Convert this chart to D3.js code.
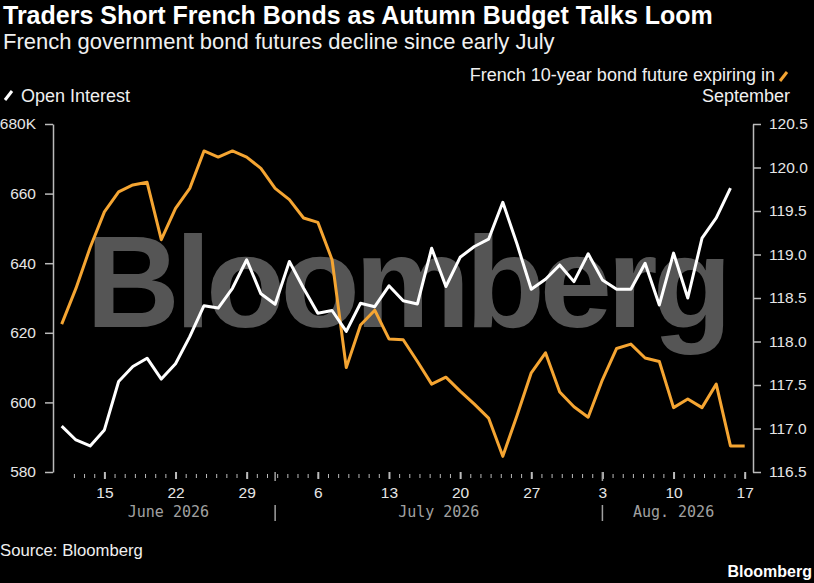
<!DOCTYPE html>
<html lang="en">
<meta charset="utf-8"/>
<head>
<style>
  body { margin: 0; background-color: #000000; }
  svg { display: block; background-color: #000000; font-family: "Liberation Sans", Arial, sans-serif; }
  #title { font-size: 25px; font-weight: bold; fill: #FFFFFF; }
  #subtitle { font-size: 22px; fill: #F0F0F0; }
  .legend { font-size: 18px; fill: #F0F0F0; }
  .axis text { font-size: 15.5px; fill: #E6E6E6; font-family: "Liberation Sans", Arial, sans-serif; }
  .axis path, .axis line { stroke: #BBBBBB; stroke-width: 1.5; }
  .month { font-family: "DejaVu Sans Mono", monospace; font-size: 15px; fill: #A0A0A0; }
  .sep { stroke: #A0A0A0; stroke-width: 1.5; }
  #source { font-size: 16.7px; fill: #F0F0F0; }
  #logo { font-size: 16px; font-weight: bold; fill: #FFFFFF; }
  #watermark { font-size: 130px; font-weight: bold; fill: #555555; letter-spacing: -5px; }
</style>
</head>
<body>
<svg id="chart" width="814" height="583"></svg>

<script src="https://cdn.jsdelivr.net/npm/d3@7/dist/d3.min.js"></script>
<script>
// trading days shown on the chart
let dates = [
  "2026-06-10","2026-06-11","2026-06-12",
  "2026-06-15","2026-06-16","2026-06-17","2026-06-18","2026-06-19",
  "2026-06-22","2026-06-23","2026-06-24","2026-06-25","2026-06-26",
  "2026-06-29","2026-06-30","2026-07-01","2026-07-02","2026-07-03",
  "2026-07-06","2026-07-07","2026-07-08","2026-07-09","2026-07-10",
  "2026-07-13","2026-07-14","2026-07-15","2026-07-16","2026-07-17",
  "2026-07-20","2026-07-21","2026-07-22","2026-07-23","2026-07-24",
  "2026-07-27","2026-07-28","2026-07-29","2026-07-30","2026-07-31",
  "2026-08-03","2026-08-04","2026-08-05","2026-08-06","2026-08-07",
  "2026-08-10","2026-08-11","2026-08-12","2026-08-13","2026-08-14",
  "2026-08-17"
]

// open interest, thousands of contracts (last day not yet published)
let openInterest = [
  593.2, 589.2, 587.5, 592.1, 606.0, 610.3, 612.7, 606.7, 611.1, 618.9,
  627.8, 627.1, 632.8, 641.0, 631.2, 628.2, 640.5, 632.8, 625.6, 626.4,
  620.4, 628.5, 627.5, 633.5, 629.2, 628.3, 644.3, 633.3, 641.7, 644.8,
  646.9, 657.5, 645.5, 632.5, 635.4, 639.5, 634.7, 642.7, 635.2, 632.5,
  632.5, 640.0, 628.0, 642.9, 630.0, 647.2, 653.0, 661.6
]

// French 10-year bond future, September contract
let bondFuture = [
  118.20, 118.61, 119.08, 119.49, 119.72, 119.80, 119.83, 119.17, 119.53, 119.76,
  120.19, 120.12, 120.19, 120.12, 119.99, 119.76, 119.63, 119.42, 119.37, 118.94,
  117.70, 118.19, 118.36, 118.03, 118.02, 117.77, 117.51, 117.59, 117.43, 117.28,
  117.12, 116.68, 117.15, 117.64, 117.87, 117.42, 117.25, 117.13, 117.56, 117.92,
  117.97, 117.81, 117.77, 117.24, 117.34, 117.24, 117.51, 116.80, 116.80
]

let leftTicks = [580, 600, 620, 640, 660, 680]
let rightTicks = [116.5, 117.0, 117.5, 118.0, 118.5, 119.0, 119.5, 120.0, 120.5]
let weekLabels = ["2026-06-15","2026-06-22","2026-06-29","2026-07-06","2026-07-13",
                  "2026-07-20","2026-07-27","2026-08-03","2026-08-10","2026-08-17"]
let firstDayTick = "2026-06-12"
let monthStarts = ["2026-07-01", "2026-08-03"]
let monthNames = ["June 2026", "July 2026", "Aug. 2026"]

let svg = d3.select("#chart")
let plotTop = 124, plotBottom = 472, plotLeft = 53, plotRight = 753
let parse = d3.timeParse("%Y-%m-%d")

let xPoint = d3.scalePoint().domain(dates).range([61.7, 744.7])
let xTime = d3.scaleTime()
  .domain([parse(weekLabels[0]), parse(weekLabels[weekLabels.length - 1])])
  .range([xPoint(weekLabels[0]), xPoint(weekLabels[weekLabels.length - 1])])
let yLeft = d3.scaleLinear().domain([580, 680]).range([plotBottom, plotTop])
let yRight = d3.scaleLinear().domain([116.5, 120.5]).range([plotBottom, plotTop])

// titles
svg.append("text").attr("id", "title").attr("x", 3).attr("y", 24)
  .text("Traders Short French Bonds as Autumn Budget Talks Loom")
svg.append("text").attr("id", "subtitle").attr("x", 3).attr("y", 49)
  .text("French government bond futures decline since early July")

// legend
svg.append("line").attr("x1", 5).attr("y1", 100).attr("x2", 12).attr("y2", 91)
  .attr("stroke", "#FFFFFF").attr("stroke-width", 3)
svg.append("text").attr("class", "legend").attr("x", 21).attr("y", 102).text("Open Interest")
svg.append("text").attr("class", "legend").attr("x", 775).attr("y", 81)
  .attr("text-anchor", "end").text("French 10-year bond future expiring in")
svg.append("line").attr("x1", 780).attr("y1", 81).attr("x2", 787).attr("y2", 72)
  .attr("stroke", "#F5A532").attr("stroke-width", 3)
svg.append("text").attr("class", "legend").attr("x", 790).attr("y", 102)
  .attr("text-anchor", "end").text("September")

// watermark
svg.append("text").attr("id", "watermark").attr("x", 86).attr("y", 327)
  .text("Bloomberg")

// y axes
svg.append("g").attr("class", "axis")
  .attr("transform", "translate(" + plotLeft + ",0)")
  .call(d3.axisLeft(yLeft).tickValues(leftTicks).tickSize(8).tickSizeOuter(0).tickPadding(9)
    .tickFormat(d => d === 680 ? "680K" : d))
svg.append("g").attr("class", "axis")
  .attr("transform", "translate(" + plotRight + ",0)")
  .call(d3.axisRight(yRight).tickValues(rightTicks).tickSize(8).tickSizeOuter(0).tickPadding(8)
    .tickFormat(d3.format(".1f")))

// x axis: daily minor ticks, weekly labels
let days = d3.timeDay.range(parse(firstDayTick), d3.timeDay.offset(parse(weekLabels[weekLabels.length - 1]), 1))
let minor = svg.append("g").attr("class", "axis")
  .attr("transform", "translate(0," + (plotBottom + 2) + ")")
  .call(d3.axisBottom(xTime).tickValues(days).tickSize(4).tickFormat(""))
minor.select(".domain").remove()
minor.selectAll("line").style("stroke-width", 1)

let major = svg.append("g").attr("class", "axis")
  .attr("transform", "translate(0," + plotBottom + ")")
  .call(d3.axisBottom(xTime).tickValues(weekLabels.map(parse)).tickSize(7).tickPadding(8)
    .tickFormat(d3.timeFormat("%-d")))
major.select(".domain").remove()
major.selectAll("line").style("stroke-width", 2)

// month separators and names
svg.selectAll(".sepTick").data(monthStarts).enter().append("line")
  .attr("class", "sep")
  .attr("x1", d => xPoint(d)).attr("x2", d => xPoint(d))
  .attr("y1", plotBottom).attr("y2", plotBottom + 9)
svg.selectAll(".sepBar").data(monthStarts).enter().append("line")
  .attr("class", "sep")
  .attr("x1", d => xPoint(d)).attr("x2", d => xPoint(d))
  .attr("y1", plotBottom + 33).attr("y2", plotBottom + 49)

let edges = [xPoint.range()[0]].concat(monthStarts.map(d => xPoint(d)), [xPoint.range()[1]])
svg.selectAll(".month").data(monthNames).enter().append("text")
  .attr("class", "month")
  .attr("x", (d, i) => (edges[i] + edges[i + 1]) / 2)
  .attr("y", plotBottom + 45)
  .attr("text-anchor", "middle")
  .text(d => d)

// lines
let bondLine = d3.line().x((d, i) => xPoint(dates[i])).y(d => yRight(d))
let oiLine = d3.line().x((d, i) => xPoint(dates[i])).y(d => yLeft(d))

svg.append("path").datum(bondFuture)
  .attr("d", bondLine).attr("fill", "none")
  .attr("stroke", "#F5A532").attr("stroke-width", 3).attr("stroke-linejoin", "round")
svg.append("path").datum(openInterest)
  .attr("d", oiLine).attr("fill", "none")
  .attr("stroke", "#FFFFFF").attr("stroke-width", 3).attr("stroke-linejoin", "round")

// footer
svg.append("text").attr("id", "source").attr("x", 0).attr("y", 556).text("Source: Bloomberg")
svg.append("text").attr("id", "logo").attr("x", 812).attr("y", 577)
  .attr("text-anchor", "end").text("Bloomberg")
</script>
</body>
</html>
